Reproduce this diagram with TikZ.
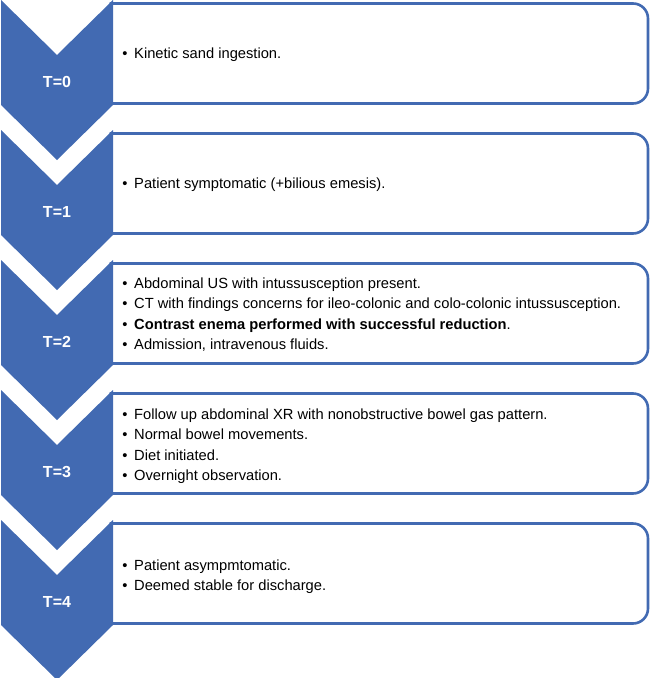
\documentclass[tikz,border=0pt]{standalone}
\usepackage{fontspec}
\setmainfont{Liberation Sans}
\definecolor{chev}{RGB}{66,106,178}
\begin{document}
\begin{tikzpicture}[x=1pt,y=-1pt,
  chevshape/.style={fill=chev,draw=none},
  boxshape/.style={draw=chev,line width=2.6pt,fill=white},
  tlabel/.style={text=white,font=\fontsize{16}{19}\selectfont\bfseries},
  item/.style={anchor=base west,inner sep=0pt,font=\fontsize{14.7}{17}\selectfont},
  bul/.style={anchor=base,inner sep=0pt,font=\fontsize{14.7}{17}\selectfont}]
\useasboundingbox (0,0) rectangle (652,678);
% boxes
\foreach \i in {0,...,4}{
  \pgfmathsetmacro{\t}{130*\i}
  \draw[boxshape] (111,\t+3.5) [rounded corners=15] -- (648,\t+3.5) -- (648,\t+103.5) [sharp corners] -- (111,\t+103.5) -- cycle;
}
% chevrons
\foreach \i in {0,...,4}{
  \pgfmathsetmacro{\t}{130*\i}
  \fill[chevshape] (1,\t) -- (57,\t+55) -- (113,\t) -- (113,\t+105) -- (57,\t+160) -- (1,\t+105) -- cycle;
  \node[tlabel] (T\i) at (57,\t+82) {T=\i};
}
% texts
\newcommand\bline[3]{%
  \node[bul] (#1b) at (125,#2) {\textbullet};
  \node[item] (#1) at (134,#2) {#3};}
\bline{a0}{58}{Kinetic sand ingestion.}
\bline{a1}{188.5}{Patient symptomatic (+bilious emesis).}
\bline{a2}{288}{Abdominal US with intussusception present.}
\bline{b2}{308.5}{CT with findings concerns for ileo-colonic and colo-colonic intussusception.}
\bline{c2}{329}{\textbf{Contrast enema performed with successful reduction}.}
\bline{d2}{349.5}{Admission, intravenous fluids.}
\bline{a3}{419}{Follow up abdominal XR with nonobstructive bowel gas pattern.}
\bline{b3}{439.5}{Normal bowel movements.}
\bline{c3}{460}{Diet initiated.}
\bline{d3}{480.5}{Overnight observation.}
\bline{a4}{570}{Patient asympmtomatic.}
\bline{b4}{590.5}{Deemed stable for discharge.}
\end{tikzpicture}
\end{document}
